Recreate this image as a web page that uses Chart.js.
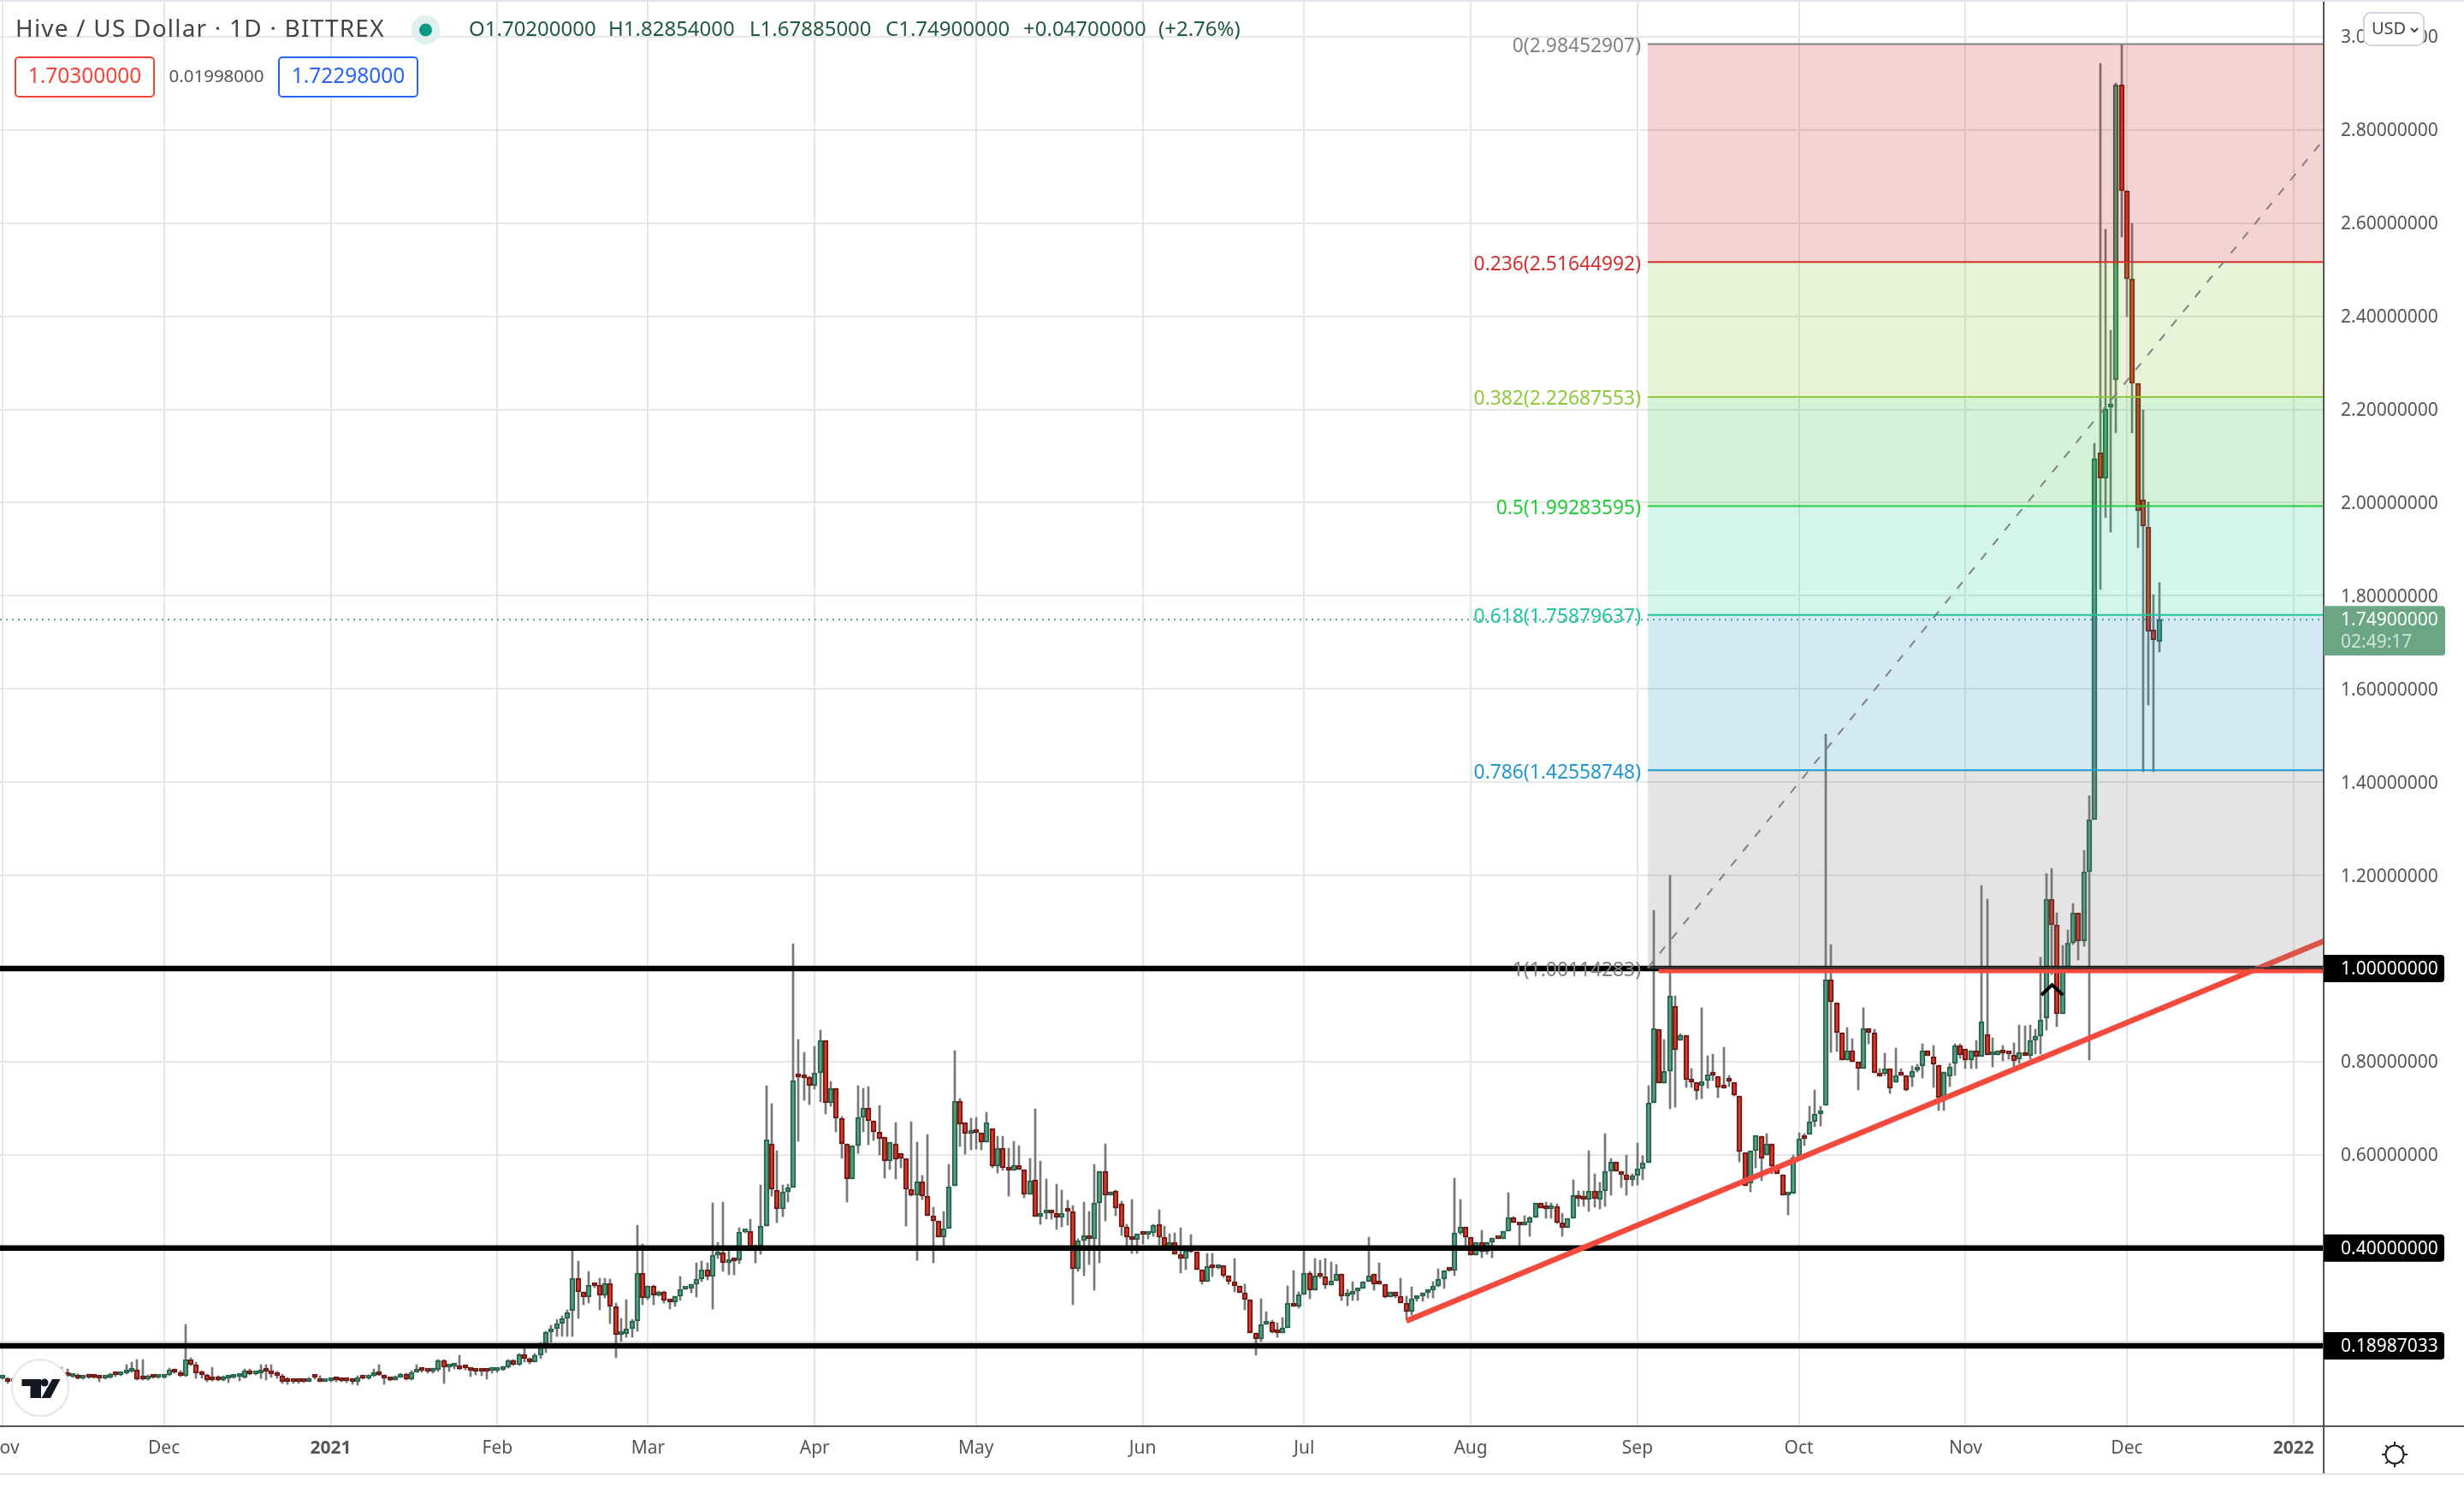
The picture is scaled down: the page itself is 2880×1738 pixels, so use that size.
<!DOCTYPE html>
<html>
<head>
<meta charset="utf-8">
<title>Hive / US Dollar</title>
<style>
  html, body { margin: 0; padding: 0; background: #ffffff; }
  canvas { display: block; }
</style>
<script src="https://cdn.jsdelivr.net/npm/chart.js@4/dist/chart.umd.min.js"></script>
</head>
<body>
<canvas id="chart" width="2880" height="1738"></canvas>
<script>
// day 0 is 2020-11-01, one candle per day
const opens = [
  .120,.121,.113,.116,.118,.117,.119,.118,.120,.122,
  .124,.127,.131,.124,.128,.120,.124,.124,.124,.121,
  .122,.130,.127,.131,.135,.139,.120,.118,.126,.122,
  .123,.127,.138,.134,.126,.160,.150,.132,.127,.123,
  .123,.116,.120,.123,.124,.123,.136,.130,.132,.139,
  .136,.132,.126,.113,.113,.113,.113,.113,.123,.120,
  .113,.115,.120,.116,.115,.114,.113,.124,.120,.126,
  .131,.127,.119,.117,.123,.130,.118,.134,.137,.136,
  .135,.139,.159,.145,.146,.148,.143,.142,.136,.136,
  .136,.136,.136,.139,.144,.158,.150,.172,.163,.156,
  .170,.193,.219,.227,.238,.248,.266,.335,.306,.294,
  .321,.321,.298,.325,.275,.213,.216,.227,.244,.347,
  .292,.318,.298,.305,.287,.283,.297,.312,.314,.323,
  .333,.354,.338,.384,.390,.368,.378,.373,.434,.436,
  .393,.404,.448,.624,.525,.483,.521,.530,.770,.767,
  .767,.748,.775,.846,.712,.743,.678,.623,.549,.620,
  .681,.701,.673,.650,.639,.587,.623,.603,.593,.527,
  .513,.543,.511,.470,.458,.424,.442,.533,.716,.670,
  .645,.651,.647,.628,.656,.576,.615,.572,.566,.578,
  .568,.516,.547,.468,.474,.480,.474,.465,.480,.479,
  .355,.416,.427,.419,.497,.564,.513,.523,.495,.445,
  .418,.418,.431,.429,.433,.450,.423,.403,.412,.386,
  .377,.394,.392,.353,.328,.361,.357,.363,.340,.328,
  .319,.303,.289,.218,.205,.236,.242,.219,.218,.228,
  .282,.275,.300,.346,.309,.340,.338,.320,.329,.344,
  .296,.301,.308,.314,.327,.344,.323,.323,.294,.305,
  .296,.282,.263,.291,.297,.303,.310,.319,.334,.352,
  .351,.432,.445,.424,.385,.412,.392,.412,.421,.420,
  .437,.465,.454,.449,.454,.465,.496,.486,.483,.489,
  .454,.443,.464,.514,.506,.505,.522,.505,.522,.565,
  .584,.565,.558,.547,.555,.570,.583,.711,.869,.753,
  .780,.920,.845,.856,.759,.755,.748,.759,.772,.769,
  .744,.759,.756,.726,.606,.539,.609,.640,.600,.624,
  .575,.558,.514,.517,.598,.635,.644,.672,.688,.706,
  .977,.926,.862,.803,.823,.799,.786,.871,.862,.775,
  .774,.786,.756,.771,.771,.766,.781,.791,.824,.811,
  .793,.722,.768,.796,.835,.828,.804,.823,.811,.859,
  .814,.814,.824,.817,.814,.805,.820,.813,.845,.854,
  .893,1.148,1.094,.903,.997,1.055,1.120,1.059,1.208,1.319,
  2.107,2.052,2.205,2.263,2.898,2.669,2.480,2.256,2.006,1.948,
  1.728,1.702
];
const closes = [
  .122,.112,.116,.118,.117,.119,.118,.120,.122,.124,
  .127,.131,.125,.127,.120,.124,.123,.122,.121,.122,
  .130,.127,.131,.135,.139,.119,.118,.125,.123,.123,
  .127,.138,.134,.126,.160,.150,.132,.127,.117,.116,
  .116,.120,.123,.124,.125,.136,.130,.132,.139,.135,
  .130,.126,.113,.112,.112,.112,.112,.120,.122,.113,
  .115,.118,.116,.114,.114,.113,.122,.120,.125,.132,
  .127,.121,.117,.123,.130,.118,.134,.138,.136,.135,
  .139,.159,.145,.146,.147,.141,.142,.136,.135,.135,
  .135,.136,.138,.144,.158,.150,.172,.163,.156,.170,
  .193,.219,.227,.238,.248,.261,.335,.306,.294,.321,
  .319,.298,.325,.275,.213,.216,.227,.244,.347,.292,
  .318,.298,.305,.287,.283,.297,.312,.314,.323,.333,
  .354,.338,.384,.390,.368,.376,.371,.434,.436,.393,
  .404,.447,.633,.526,.483,.521,.530,.759,.766,.764,
  .748,.775,.846,.712,.742,.678,.623,.549,.620,.681,
  .701,.673,.650,.634,.587,.628,.590,.593,.527,.513,
  .543,.511,.470,.458,.424,.442,.531,.716,.665,.645,
  .652,.647,.628,.670,.576,.615,.572,.566,.578,.568,
  .516,.544,.468,.474,.480,.474,.465,.474,.478,.355,
  .416,.427,.419,.497,.564,.513,.520,.485,.445,.424,
  .417,.431,.429,.433,.449,.423,.403,.412,.386,.377,
  .394,.392,.353,.328,.361,.357,.363,.340,.328,.319,
  .303,.289,.218,.205,.236,.242,.219,.217,.228,.282,
  .275,.300,.346,.309,.340,.338,.320,.329,.344,.296,
  .301,.308,.314,.327,.340,.322,.322,.294,.305,.296,
  .282,.263,.291,.297,.303,.310,.319,.334,.352,.351,
  .432,.445,.424,.385,.412,.392,.412,.421,.420,.437,
  .465,.454,.449,.454,.465,.496,.486,.483,.489,.454,
  .443,.464,.514,.506,.505,.522,.506,.522,.565,.584,
  .565,.557,.547,.555,.570,.583,.711,.871,.753,.780,
  .941,.826,.856,.761,.756,.737,.758,.772,.771,.744,
  .743,.757,.728,.607,.534,.609,.641,.592,.624,.575,
  .560,.514,.517,.594,.635,.634,.672,.688,.696,.977,
  .929,.862,.803,.823,.800,.786,.871,.862,.775,.768,
  .786,.742,.771,.770,.739,.780,.789,.823,.812,.794,
  .722,.778,.788,.835,.814,.804,.823,.811,.886,.815,
  .814,.824,.818,.816,.802,.820,.813,.845,.854,.889,
  1.148,1.094,.903,.996,1.055,1.120,1.059,1.208,1.319,2.094,
  2.052,2.202,2.206,2.898,2.669,2.480,2.256,1.983,1.949,1.723,
  1.705,1.749
];
const highs = [
  .124,.122,.118,.120,.121,.122,.120,.122,.125,.128,
  .131,.145,.140,.129,.130,.126,.130,.128,.125,.124,
  .132,.131,.133,.150,.155,.160,.160,.127,.128,.125,
  .128,.142,.140,.136,.236,.165,.155,.137,.130,.145,
  .126,.125,.126,.128,.130,.140,.140,.134,.150,.150,
  .150,.135,.130,.122,.116,.115,.114,.122,.128,.125,
  .117,.120,.122,.118,.117,.116,.125,.126,.128,.140,
  .150,.128,.121,.125,.132,.132,.136,.150,.139,.137,
  .142,.160,.160,.148,.149,.170,.146,.143,.138,.138,
  .138,.138,.140,.146,.160,.160,.174,.189,.165,.174,
  .197,.222,.235,.247,.255,.267,.400,.372,.306,.350,
  .322,.336,.336,.333,.282,.248,.289,.247,.449,.409,
  .318,.320,.307,.307,.288,.297,.339,.315,.323,.368,
  .372,.368,.497,.412,.499,.400,.380,.443,.437,.462,
  .407,.535,.748,.710,.609,.535,.538,1.053,.847,.820,
  .768,.832,.868,.846,.757,.743,.682,.623,.620,.748,
  .743,.746,.673,.706,.639,.628,.669,.603,.593,.671,
  .627,.556,.644,.488,.458,.478,.579,.823,.721,.670,
  .678,.681,.647,.691,.656,.640,.640,.614,.629,.620,
  .568,.593,.699,.587,.549,.480,.538,.525,.503,.491,
  .419,.499,.478,.579,.564,.623,.520,.524,.500,.450,
  .504,.431,.432,.434,.451,.482,.447,.431,.432,.444,
  .394,.429,.392,.353,.388,.388,.365,.363,.340,.378,
  .319,.322,.289,.218,.291,.264,.245,.239,.251,.319,
  .352,.306,.396,.349,.378,.374,.378,.370,.365,.344,
  .312,.327,.314,.327,.424,.344,.369,.323,.305,.306,
  .336,.296,.316,.297,.303,.311,.328,.356,.352,.353,
  .550,.504,.445,.424,.412,.438,.412,.421,.422,.437,
  .519,.468,.454,.470,.468,.496,.496,.499,.496,.495,
  .474,.464,.547,.523,.523,.609,.559,.540,.646,.592,
  .585,.565,.600,.559,.626,.597,.748,1.125,.869,.848,
  1.200,.941,.860,.856,.786,.755,.915,.813,.817,.769,
  .831,.771,.756,.726,.606,.609,.641,.640,.646,.624,
  .575,.558,.517,.600,.647,.646,.704,.739,.704,1.503,
  1.051,.926,.862,.873,.850,.799,.915,.871,.870,.786,
  .818,.786,.829,.786,.771,.790,.795,.838,.824,.835,
  .793,.778,.796,.838,.838,.828,.823,.845,1.178,1.149,
  .851,.824,.835,.817,.841,.878,.877,.878,.870,1.024,
  1.204,1.215,1.119,1.049,1.083,1.139,1.120,1.253,1.371,2.128,
  2.943,2.586,2.370,2.900,2.984,2.669,2.600,2.256,2.200,2.000,
  1.802,1.82854
];
const lows = [
  .119,.110,.112,.115,.115,.116,.116,.117,.119,.121,
  .123,.126,.124,.122,.119,.119,.121,.120,.113,.119,
  .121,.124,.125,.130,.133,.117,.117,.117,.120,.121,
  .121,.125,.132,.124,.124,.148,.120,.120,.113,.115,
  .114,.115,.111,.120,.115,.120,.128,.128,.120,.117,
  .122,.120,.110,.108,.110,.110,.111,.112,.118,.112,
  .112,.113,.113,.112,.111,.108,.105,.118,.118,.124,
  .125,.108,.114,.116,.122,.116,.116,.133,.134,.132,
  .131,.135,.110,.135,.140,.139,.139,.124,.128,.125,
  .118,.132,.133,.136,.142,.147,.148,.155,.152,.155,
  .163,.175,.197,.210,.211,.210,.211,.249,.279,.281,
  .315,.268,.293,.237,.165,.200,.209,.209,.222,.278,
  .290,.278,.296,.281,.269,.275,.287,.311,.304,.294,
  .327,.331,.269,.378,.350,.343,.343,.367,.432,.393,
  .369,.387,.448,.511,.454,.467,.499,.530,.629,.718,
  .708,.741,.714,.687,.705,.650,.592,.499,.549,.604,
  .650,.622,.631,.600,.550,.568,.549,.572,.448,.511,
  .373,.504,.470,.369,.424,.400,.442,.533,.618,.602,
  .610,.612,.610,.628,.572,.561,.566,.512,.566,.568,
  .508,.516,.468,.450,.462,.462,.440,.446,.449,.279,
  .350,.341,.365,.310,.369,.458,.513,.470,.427,.400,
  .389,.389,.409,.420,.425,.406,.403,.403,.386,.347,
  .354,.390,.353,.323,.328,.338,.355,.337,.322,.305,
  .303,.268,.218,.170,.199,.236,.217,.208,.217,.228,
  .275,.271,.300,.291,.309,.336,.313,.320,.329,.287,
  .277,.288,.287,.314,.327,.309,.322,.293,.294,.293,
  .282,.248,.257,.285,.285,.293,.293,.316,.314,.350,
  .341,.429,.404,.385,.385,.380,.386,.380,.419,.420,
  .437,.454,.402,.449,.425,.465,.486,.463,.463,.453,
  .426,.443,.464,.490,.490,.478,.487,.483,.490,.514,
  .565,.530,.513,.534,.535,.547,.583,.711,.753,.753,
  .698,.703,.845,.745,.745,.719,.721,.742,.759,.722,
  .743,.747,.727,.584,.534,.520,.572,.545,.600,.560,
  .560,.514,.471,.517,.598,.619,.644,.661,.662,.706,
  .820,.821,.803,.803,.800,.740,.786,.838,.775,.768,
  .771,.731,.756,.770,.738,.747,.777,.765,.812,.744,
  .696,.695,.747,.771,.808,.786,.786,.786,.811,.815,
  .789,.814,.802,.805,.789,.796,.813,.805,.817,.817,
  .868,.987,.875,.903,.997,1.052,1.018,1.047,.804,1.319,
  1.813,1.967,1.936,2.150,2.571,2.400,2.150,1.904,1.422,1.565,
  1.422,1.67885
];

// axis ticks
const priceTicks = [3.0, 2.8, 2.6, 2.4, 2.2, 2.0, 1.8, 1.6, 1.4, 1.2, 1.0, 0.8, 0.6, 0.4, 0.2];
const monthTickDays = [0, 30, 61, 92, 120, 151, 181, 212, 242, 273, 304, 334, 365, 395, 426];
const monthTickLabels = ["Nov", "Dec", "2021", "Feb", "Mar", "Apr", "May", "Jun", "Jul", "Aug", "Sep", "Oct", "Nov", "Dec", "2022"];

// visible range of the axes
const dayMin = -0.493;
const dayMax = 431.6;
const priceMin = 0.0174;
const priceMax = 3.0753;

// fibonacci retracement tool
const fibNames = ["0", "0.236", "0.382", "0.5", "0.618", "0.786", "1"];
const fibPrices = [2.98452907, 2.51644992, 2.22687553, 1.99283595, 1.75879637, 1.42558748, 1.00114283];
const fibLineColors = ["#808388", "#d32f2f", "#8fc93a", "#22cc3a", "#1fc79a", "#2196d3", "#3a3a3a"];
const fibFillColors = [
  "rgba(205,35,35,0.2)",
  "rgba(145,195,60,0.2)",
  "rgba(40,195,50,0.2)",
  "rgba(40,205,150,0.2)",
  "rgba(35,145,200,0.2)",
  "rgba(120,120,120,0.2)"
];
const fibStartDay = 305.9;
const fibDiagonalEndPrice = 2.7796;

// hand drawn lines
const blackLevels = [1.0, 0.4, 0.18987033];
const redLevel = 0.9945;
const redLevelStartDay = 307.9;
const trendDays = [261, 431.6];
const trendPrices = [0.2434, 1.0588];
const arrowDays = [379.1, 381.1, 383.1];
const arrowPrices = [0.943, 0.9648, 0.943];

// last price
const lastPrice = 1.749;
const lastPriceText = "1.74900000";
const countdownText = "02:49:17";

const titleText = "Hive / US Dollar · 1D · BITTREX";
const ohlcParts = [
  ["O1.70200000", 548], ["H1.82854000", 711], ["L1.67885000", 876],
  ["C1.74900000", 1035], ["+0.04700000", 1196], ["(+2.76%)", 1354]
];
const sellPriceText = "1.70300000";
const spreadText = "0.01998000";
const buyPriceText = "1.72298000";

const fontName = '"Noto Sans"';
const greenBody = "#5b9f80";
const greenEdge = "#25634a";
const redBody = "#d63a2c";
const redEdge = "#6f1712";
const wickColor = "#777777";
const gridColor = "#e6e6e6";
const axisColor = "#555555";

// wick and body bars
const wickData = [];
const bodyData = [];
for (let i = 0; i < opens.length; i++) {
  wickData.push({ x: i, y: [lows[i], highs[i]] });
  bodyData.push({ x: i, y: [opens[i], closes[i]] });
}

function isUp(index) {
  return closes[index] >= opens[index];
}

function lineDataset(points, color, width, order, extra) {
  return Object.assign(
    {
      type: "line",
      data: points,
      borderColor: color,
      borderWidth: width,
      pointRadius: 0,
      tension: 0,
      fill: false,
      order: order
    },
    extra || {}
  );
}

function zipPoints(days, prices) {
  return days.map((day, i) => ({ x: day, y: prices[i] }));
}

// overlay datasets, higher order is painted first
function buildDatasets() {
  const datasets = [
    {
      type: "bar",
      data: wickData,
      backgroundColor: wickColor,
      barThickness: 2,
      grouped: false,
      order: 20
    },
    {
      type: "bar",
      data: bodyData,
      backgroundColor: (ctx) => (isUp(ctx.dataIndex) ? greenBody : redBody),
      borderColor: (ctx) => (isUp(ctx.dataIndex) ? greenEdge : redEdge),
      borderWidth: 2,
      borderSkipped: false,
      barThickness: 6,
      minBarLength: 4,
      grouped: false,
      order: 19
    }
  ];
  for (let level of blackLevels) {
    datasets.push(lineDataset(zipPoints([dayMin, dayMax], [level, level]), "#000000", 6.5, 18));
  }
  datasets.push(lineDataset(zipPoints([dayMin, dayMax], [lastPrice, lastPrice]), "#5a9e8c", 2, 18, { borderDash: [2, 5] }));
  datasets.push(lineDataset(zipPoints([redLevelStartDay, dayMax], [redLevel, redLevel]), "#f44a3e", 5, 17));
  datasets.push(lineDataset(zipPoints(trendDays, trendPrices), "#f44a3e", 6.5, 17));
  datasets.push(lineDataset(zipPoints(arrowDays, arrowPrices), "#000000", 4, 17));
  for (let i = 0; i < fibPrices.length; i++) {
    const extra = {};
    if (i < fibFillColors.length) {
      extra.fill = { value: fibPrices[i + 1] };
      extra.backgroundColor = fibFillColors[i];
    }
    datasets.push(
      lineDataset(zipPoints([fibStartDay, dayMax], [fibPrices[i], fibPrices[i]]), fibLineColors[i], 2, 16 - i, extra)
    );
  }
  datasets.push(
    lineDataset(zipPoints([fibStartDay, dayMax], [fibPrices[6], fibDiagonalEndPrice]), "#808080", 2, 5, { borderDash: [10, 12] })
  );
  return datasets;
}

function roundedBox(ctx, x, y, w, h, radius) {
  ctx.beginPath();
  ctx.roundRect(x, y, w, h, radius);
}

function drawText(ctx, text, x, y, font, color, align) {
  ctx.font = font;
  ctx.fillStyle = color;
  ctx.textAlign = align || "left";
  ctx.textBaseline = "middle";
  ctx.fillText(text, x, y);
}

// header row and the order boxes
function drawHeader(ctx) {
  ctx.letterSpacing = "1.2px";
  drawText(ctx, titleText, 18, 35, "28px " + fontName, "#444444");
  ctx.letterSpacing = "0px";
  ctx.fillStyle = "#e0f0ee";
  ctx.beginPath();
  ctx.arc(497.5, 35, 17, 0, Math.PI * 2);
  ctx.fill();
  ctx.fillStyle = "#089981";
  ctx.beginPath();
  ctx.arc(497.5, 35, 7.5, 0, Math.PI * 2);
  ctx.fill();
  for (let part of ohlcParts) {
    drawText(ctx, part[0], part[1], 35, "24px " + fontName, "#1f5a3e");
  }
  ctx.lineWidth = 2;
  ctx.strokeStyle = "#f44336";
  ctx.fillStyle = "#ffffff";
  roundedBox(ctx, 18, 67, 162, 46, 4);
  ctx.fill();
  ctx.stroke();
  drawText(ctx, sellPriceText, 99, 90, "24.5px " + fontName, "#f44336", "center");
  drawText(ctx, spreadText, 253, 90, "20.5px " + fontName, "#555555", "center");
  ctx.strokeStyle = "#2962ff";
  ctx.fillStyle = "#ffffff";
  roundedBox(ctx, 326, 67, 162, 46, 4);
  ctx.fill();
  ctx.stroke();
  drawText(ctx, buyPriceText, 407, 90, "24.5px " + fontName, "#2962ff", "center");
}

// fibonacci labels left of the tool
function drawFibLabels(chart) {
  const ctx = chart.ctx;
  const yScale = chart.scales.y;
  for (let i = 0; i < fibPrices.length; i++) {
    const text = fibNames[i] + "(" + fibPrices[i].toFixed(8) + ")";
    const color = i === 0 || i === 6 ? "#808388" : fibLineColors[i];
    drawText(ctx, text, 1918, yScale.getPixelForValue(fibPrices[i]) + 3, "22.8px " + fontName, color, "right");
  }
}

// axis frame, price tags and the small widgets
function drawFrame(chart) {
  const ctx = chart.ctx;
  const area = chart.chartArea;
  const yScale = chart.scales.y;
  ctx.fillStyle = "#e0e3eb";
  ctx.fillRect(0, 0, 2880, 2);
  ctx.fillRect(0, 1722, 2880, 2);
  ctx.fillStyle = axisColor;
  ctx.fillRect(0, area.bottom - 1, 2880, 2);
  ctx.fillRect(area.right - 1, 2, 2, 1720);

  for (let level of blackLevels) {
    const y = yScale.getPixelForValue(level);
    ctx.fillStyle = "#000000";
    roundedBox(ctx, area.right, y - 16, 141, 32, [0, 4, 4, 0]);
    ctx.fill();
    drawText(ctx, level.toFixed(8), 2736, y + 1, "21px " + fontName, "#ffffff");
  }

  const lastY = yScale.getPixelForValue(lastPrice);
  ctx.fillStyle = "#6aa684";
  roundedBox(ctx, area.right, lastY - 16, 142, 58, [0, 4, 4, 0]);
  ctx.fill();
  drawText(ctx, lastPriceText, 2736, lastY + 1, "21px " + fontName, "#ffffff");
  drawText(ctx, countdownText, 2736, lastY + 27, "21px " + fontName, "#cfe3d8");

  ctx.fillStyle = "#ffffff";
  ctx.strokeStyle = "#d1d4dc";
  ctx.lineWidth = 2;
  roundedBox(ctx, 2763, 15, 70, 38, 8);
  ctx.fill();
  ctx.stroke();
  drawText(ctx, "USD", 2772, 34, "20px " + fontName, "#444444");
  ctx.strokeStyle = "#444444";
  ctx.beginPath();
  ctx.moveTo(2818, 33);
  ctx.lineTo(2822, 37);
  ctx.lineTo(2826, 33);
  ctx.stroke();

  // sun icon
  ctx.strokeStyle = "#222222";
  ctx.lineWidth = 2;
  ctx.beginPath();
  ctx.arc(2799, 1700, 10.5, 0, Math.PI * 2);
  ctx.stroke();
  for (let k = 0; k < 8; k++) {
    const angle = (Math.PI / 4) * k;
    ctx.beginPath();
    ctx.moveTo(2799 + Math.cos(angle) * 11, 1700 + Math.sin(angle) * 11);
    ctx.lineTo(2799 + Math.cos(angle) * 15, 1700 + Math.sin(angle) * 15);
    ctx.stroke();
  }

  // logo badge
  ctx.fillStyle = "#ffffff";
  ctx.strokeStyle = "#e8e8e8";
  ctx.lineWidth = 2.5;
  ctx.beginPath();
  ctx.arc(47, 1622, 33, 0, Math.PI * 2);
  ctx.fill();
  ctx.stroke();
  ctx.fillStyle = "#131722";
  ctx.fillRect(25.5, 1612, 22.5, 8);
  ctx.fillRect(35.5, 1612, 12.5, 22);
  ctx.beginPath();
  ctx.arc(52, 1616, 4.5, 0, Math.PI * 2);
  ctx.fill();
  ctx.beginPath();
  ctx.moveTo(61, 1612);
  ctx.lineTo(70.5, 1612);
  ctx.lineTo(59, 1634);
  ctx.lineTo(48.5, 1634);
  ctx.closePath();
  ctx.fill();
}

const overlayPlugin = {
  id: "overlay",
  // snap the candles to whole pixels so they stay crisp
  afterDatasetsUpdate(chart) {
    for (let datasetIndex of [0, 1]) {
      for (let bar of chart.getDatasetMeta(datasetIndex).data) {
        bar.x = Math.round(bar.x);
        bar.y = Math.round(bar.y);
        bar.base = Math.round(bar.base);
      }
    }
  },
  afterDraw(chart) {
    drawFibLabels(chart);
    drawFrame(chart);
    drawHeader(chart.ctx);
  }
};

// no room for half labels, the plot fills the frame
function clearScalePadding(scale) {
  scale.paddingLeft = 0;
  scale.paddingRight = 0;
  scale.paddingTop = 0;
  scale.paddingBottom = 0;
}

new Chart(document.getElementById("chart").getContext("2d"), {
  type: "bar",
  data: { datasets: buildDatasets() },
  plugins: [overlayPlugin],
  options: {
    responsive: false,
    animation: false,
    events: [],
    layout: { autoPadding: false, padding: { top: 2 } },
    plugins: {
      legend: { display: false },
      title: { display: false },
      tooltip: { enabled: false },
      filler: { drawTime: "beforeDatasetDraw", propagate: false }
    },
    scales: {
      x: {
        type: "linear",
        offset: false,
        min: dayMin,
        max: dayMax,
        border: { display: false },
        grid: { color: gridColor, lineWidth: 2, offset: false, drawTicks: false },
        afterBuildTicks(scale) {
          scale.ticks = monthTickDays.map((day) => ({ value: day }));
        },
        afterFit(scale) {
          scale.height = 71;
          clearScalePadding(scale);
        },
        ticks: {
          autoSkip: false,
          maxRotation: 0,
          padding: 13,
          color: axisColor,
          font: (ctx) => ({
            family: "Noto Sans",
            size: 21,
            weight: /^20/.test(monthTickLabels[ctx.index]) ? "bold" : "normal"
          }),
          callback: (value, index) => monthTickLabels[index]
        }
      },
      y: {
        position: "right",
        min: priceMin,
        max: priceMax,
        border: { display: false },
        grid: { color: gridColor, lineWidth: 2, drawTicks: false },
        afterBuildTicks(scale) {
          scale.ticks = priceTicks.map((price) => ({ value: price }));
        },
        afterFit(scale) {
          scale.width = 164;
          clearScalePadding(scale);
        },
        ticks: {
          padding: 20,
          labelOffset: 1.5,
          color: axisColor,
          font: { family: "Noto Sans", size: 21 },
          callback: (value) => value.toFixed(8)
        }
      }
    }
  }
});
</script>
</body>
</html>
